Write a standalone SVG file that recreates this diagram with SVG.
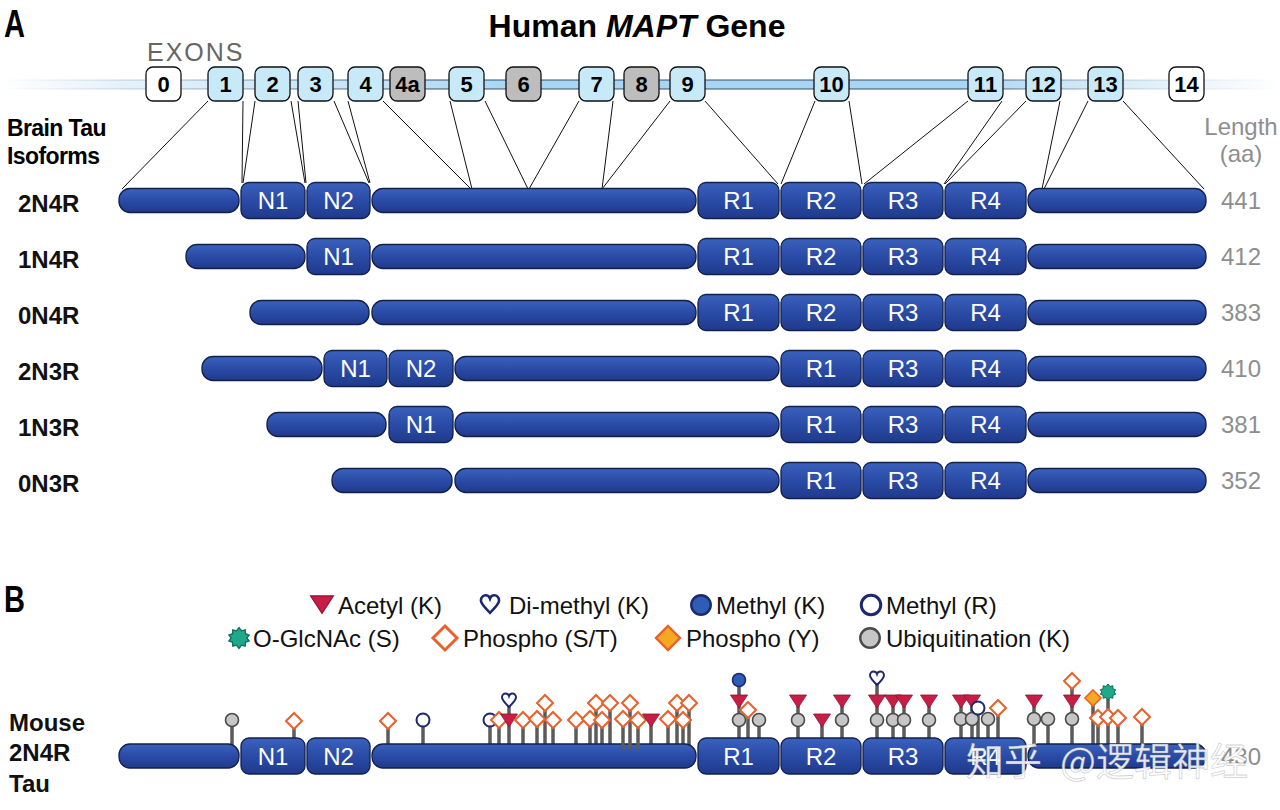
<svg xmlns="http://www.w3.org/2000/svg" xmlns:xlink="http://www.w3.org/1999/xlink" width="1280" height="810" viewBox="0 0 1280 810">
<defs>
<linearGradient id="gBlue" x1="0" y1="0" x2="0" y2="1">
<stop offset="0" stop-color="#3a62bd"/><stop offset="0.5" stop-color="#2a4ba6"/><stop offset="1" stop-color="#1f3a8c"/>
</linearGradient>
<linearGradient id="gBar" x1="0" y1="0" x2="1280" y2="0" gradientUnits="userSpaceOnUse">
<stop offset="0" stop-color="#ffffff"/><stop offset="0.1" stop-color="#e3f1fa"/><stop offset="0.3" stop-color="#c2e2f6"/><stop offset="0.4" stop-color="#a8d5f2"/><stop offset="0.75" stop-color="#a8d5f2"/><stop offset="0.85" stop-color="#d2e9f7"/><stop offset="1" stop-color="#ffffff"/>
</linearGradient>
<linearGradient id="gEdge" x1="0" y1="0" x2="1280" y2="0" gradientUnits="userSpaceOnUse">
<stop offset="0" stop-color="#1b3552" stop-opacity="0"/><stop offset="0.12" stop-color="#1b3552" stop-opacity="0.25"/><stop offset="0.33" stop-color="#1b3552" stop-opacity="0.85"/><stop offset="0.75" stop-color="#1b3552" stop-opacity="0.85"/><stop offset="0.88" stop-color="#1b3552" stop-opacity="0.2"/><stop offset="1" stop-color="#1b3552" stop-opacity="0"/>
</linearGradient>
<circle id="ub" r="6.5" fill="#c6c6c6" stroke="#4a4a4a" stroke-width="1.6"/>
<polygon id="ph" points="0,-8 8,0 0,8 -8,0" fill="#ffffff" stroke="#e8612c" stroke-width="2"/>
<polygon id="phy" points="0,-8 8,0 0,8 -8,0" fill="#f7a823" stroke="#e8612c" stroke-width="1.6"/>
<polygon id="ac" points="-8.5,-6 8.5,-6 0,7" fill="#c81e45" stroke="#8e1030" stroke-width="0.8"/>
<circle id="mr" r="6.5" fill="#ffffff" stroke="#1d2872" stroke-width="2"/>
<circle id="mk" r="6.5" fill="#2d5db5" stroke="#1d2872" stroke-width="1.6"/>
<path id="dm" d="M0,6 C-4,2 -7,-1 -7,-3.5 C-7,-6 -5,-7.5 -3.5,-7.5 C-1.8,-7.5 -0.5,-6.5 0,-5 C0.5,-6.5 1.8,-7.5 3.5,-7.5 C5,-7.5 7,-6 7,-3.5 C7,-1 4,2 0,6Z" fill="#ffffff" stroke="#1d2872" stroke-width="2"/>
<polygon id="gl" points="0,-8 2,-5.5 4.8,-6.3 4.9,-3.3 7.8,-2.2 6,0 7.8,2.2 4.9,3.3 4.8,6.3 2,5.5 0,8 -2,5.5 -4.8,6.3 -4.9,3.3 -7.8,2.2 -6,0 -7.8,-2.2 -4.9,-3.3 -4.8,-6.3 -2,-5.5" fill="#1fa88a" stroke="#0d6e5a" stroke-width="1"/>
</defs>
<style>
.seg{fill:url(#gBlue);stroke:#14204a;stroke-width:1.3}
.bl{font-family:"Liberation Sans",Arial,sans-serif;font-size:24px;fill:#ffffff;text-anchor:middle}
.iso{font-family:"Liberation Sans",Arial,sans-serif;font-size:24px;font-weight:bold;fill:#111}
.len{font-family:"Liberation Sans",Arial,sans-serif;font-size:24px;fill:#8e8e8e;text-anchor:middle}
.ex{stroke:#111;stroke-width:1.3}
.exb{fill:#c8e9f8}.exw{fill:#ffffff}.exg{fill:#bdbdbd}
.exn{font-family:"Liberation Sans",Arial,sans-serif;font-size:22px;font-weight:bold;fill:#000;text-anchor:middle}
.conn line{stroke:#111;stroke-width:1}
.stem line{stroke:#5b5b5b;stroke-width:3.5;stroke-linecap:round}
.lg{font-family:"Liberation Sans",Arial,sans-serif;font-size:24px;fill:#111}
</style>
<rect width="1280" height="810" fill="#ffffff"/>

<!-- Headings -->
<text x="4" y="37" font-family="Liberation Sans,Arial,sans-serif" font-size="38" font-weight="bold" textLength="21" lengthAdjust="spacingAndGlyphs">A</text>
<text x="637" y="37" font-family="Liberation Sans,Arial,sans-serif" font-size="32" font-weight="bold" text-anchor="middle">Human <tspan font-style="italic">MAPT</tspan> Gene</text>
<text x="147" y="61" font-family="Liberation Sans,Arial,sans-serif" font-size="25" fill="#666" letter-spacing="2">EXONS</text>
<text x="7" y="136" font-family="Liberation Sans,Arial,sans-serif" font-size="23" font-weight="bold" letter-spacing="-0.6">Brain Tau</text>
<text x="7" y="164" font-family="Liberation Sans,Arial,sans-serif" font-size="23" font-weight="bold" letter-spacing="-0.6">Isoforms</text>
<text x="1241" y="135" class="len">Length</text>
<text x="1241" y="162" class="len">(aa)</text>

<!-- Exon bar -->
<g id="exon-bar">
<rect x="0" y="80" width="1280" height="9" fill="url(#gBar)"/>
<line x1="0" y1="80" x2="1280" y2="80" stroke="url(#gEdge)" stroke-width="1.2"/>
<line x1="0" y1="89" x2="1280" y2="89" stroke="url(#gEdge)" stroke-width="1.2"/>
</g>

<!-- Connectors -->
<g id="connectors" class="conn">
<line x1="208" y1="101" x2="122" y2="189"/>
<line x1="243" y1="101" x2="242" y2="183"/>
<line x1="255" y1="101" x2="243" y2="183"/>
<line x1="291" y1="101" x2="305" y2="183"/>
<line x1="298" y1="101" x2="306" y2="183"/>
<line x1="334" y1="101" x2="369" y2="183"/>
<line x1="348" y1="101" x2="370" y2="183"/>
<line x1="383" y1="101" x2="471" y2="189"/>
<line x1="450" y1="101" x2="472" y2="189"/>
<line x1="485" y1="101" x2="528" y2="189"/>
<line x1="579" y1="101" x2="529" y2="189"/>
<line x1="613" y1="101" x2="602" y2="189"/>
<line x1="670" y1="101" x2="602" y2="189"/>
<line x1="705" y1="101" x2="778" y2="184"/>
<line x1="815" y1="101" x2="781" y2="184"/>
<line x1="849" y1="101" x2="862" y2="184"/>
<line x1="968" y1="101" x2="864" y2="184"/>
<line x1="1002" y1="101" x2="944" y2="184"/>
<line x1="1026" y1="101" x2="945" y2="184"/>
<line x1="1060" y1="101" x2="1042" y2="189"/>
<line x1="1088" y1="101" x2="1044" y2="189"/>
<line x1="1123" y1="101" x2="1204" y2="189"/>
</g>

<!-- Exons -->
<g id="exon-0"><rect class="ex exw" x="146" y="67" width="35" height="34" rx="7"/><text class="exn" x="163.5" y="92">0</text></g>
<g id="exon-1"><rect class="ex exb" x="208" y="67" width="35" height="34" rx="7"/><text class="exn" x="225.5" y="92">1</text></g>
<g id="exon-2"><rect class="ex exb" x="255" y="67" width="35" height="34" rx="7"/><text class="exn" x="272.5" y="92">2</text></g>
<g id="exon-3"><rect class="ex exb" x="298" y="67" width="35" height="34" rx="7"/><text class="exn" x="315.5" y="92">3</text></g>
<g id="exon-4"><rect class="ex exb" x="348" y="67" width="35" height="34" rx="7"/><text class="exn" x="365.5" y="92">4</text></g>
<g id="exon-4a"><rect class="ex exg" x="390" y="67" width="35" height="34" rx="7"/><text class="exn" x="407.5" y="92">4a</text></g>
<g id="exon-5"><rect class="ex exb" x="449" y="67" width="35" height="34" rx="7"/><text class="exn" x="466.5" y="92">5</text></g>
<g id="exon-6"><rect class="ex exg" x="506" y="67" width="35" height="34" rx="7"/><text class="exn" x="523.5" y="92">6</text></g>
<g id="exon-7"><rect class="ex exb" x="579" y="67" width="35" height="34" rx="7"/><text class="exn" x="596.5" y="92">7</text></g>
<g id="exon-8"><rect class="ex exg" x="624" y="67" width="35" height="34" rx="7"/><text class="exn" x="641.5" y="92">8</text></g>
<g id="exon-9"><rect class="ex exb" x="670" y="67" width="35" height="34" rx="7"/><text class="exn" x="687.5" y="92">9</text></g>
<g id="exon-10"><rect class="ex exb" x="814" y="67" width="35" height="34" rx="7"/><text class="exn" x="831.5" y="92">10</text></g>
<g id="exon-11"><rect class="ex exb" x="968" y="67" width="35" height="34" rx="7"/><text class="exn" x="985.5" y="92">11</text></g>
<g id="exon-12"><rect class="ex exb" x="1026" y="67" width="35" height="34" rx="7"/><text class="exn" x="1043.5" y="92">12</text></g>
<g id="exon-13"><rect class="ex exb" x="1088" y="67" width="35" height="34" rx="7"/><text class="exn" x="1105.5" y="92">13</text></g>
<g id="exon-14"><rect class="ex exw" x="1169" y="67" width="35" height="34" rx="7"/><text class="exn" x="1186.5" y="92">14</text></g>

<!-- 2N4R -->
<g id="iso-2N4R">
<text class="iso" x="18" y="212">2N4R</text>
<rect class="seg" x="119" y="188.5" width="120" height="24" rx="11"/>
<rect class="seg" x="241" y="182.5" width="64" height="36" rx="8"/><text class="bl" x="273" y="209">N1</text>
<rect class="seg" x="307" y="182.5" width="63" height="36" rx="8"/><text class="bl" x="338.5" y="209">N2</text>
<rect class="seg" x="372" y="188.5" width="324" height="24" rx="11"/>
<rect class="seg" x="698" y="182.5" width="81" height="36" rx="8"/><text class="bl" x="738.5" y="209">R1</text>
<rect class="seg" x="781" y="182.5" width="80" height="36" rx="8"/><text class="bl" x="821" y="209">R2</text>
<rect class="seg" x="863" y="182.5" width="80" height="36" rx="8"/><text class="bl" x="903" y="209">R3</text>
<rect class="seg" x="945" y="182.5" width="81" height="36" rx="8"/><text class="bl" x="985.5" y="209">R4</text>
<rect class="seg" x="1028" y="188.5" width="178" height="24" rx="11"/>
<text class="len" x="1241" y="209">441</text>
</g>
<!-- 1N4R -->
<g id="iso-1N4R">
<text class="iso" x="18" y="268">1N4R</text>
<rect class="seg" x="186" y="244.5" width="119" height="24" rx="11"/>
<rect class="seg" x="307" y="238.5" width="63" height="36" rx="8"/><text class="bl" x="338.5" y="265">N1</text>
<rect class="seg" x="372" y="244.5" width="324" height="24" rx="11"/>
<rect class="seg" x="698" y="238.5" width="81" height="36" rx="8"/><text class="bl" x="738.5" y="265">R1</text>
<rect class="seg" x="781" y="238.5" width="80" height="36" rx="8"/><text class="bl" x="821" y="265">R2</text>
<rect class="seg" x="863" y="238.5" width="80" height="36" rx="8"/><text class="bl" x="903" y="265">R3</text>
<rect class="seg" x="945" y="238.5" width="81" height="36" rx="8"/><text class="bl" x="985.5" y="265">R4</text>
<rect class="seg" x="1028" y="244.5" width="178" height="24" rx="11"/>
<text class="len" x="1241" y="265">412</text>
</g>
<!-- 0N4R -->
<g id="iso-0N4R">
<text class="iso" x="18" y="324">0N4R</text>
<rect class="seg" x="250" y="300.5" width="119" height="24" rx="11"/>
<rect class="seg" x="372" y="300.5" width="324" height="24" rx="11"/>
<rect class="seg" x="698" y="294.5" width="81" height="36" rx="8"/><text class="bl" x="738.5" y="321">R1</text>
<rect class="seg" x="781" y="294.5" width="80" height="36" rx="8"/><text class="bl" x="821" y="321">R2</text>
<rect class="seg" x="863" y="294.5" width="80" height="36" rx="8"/><text class="bl" x="903" y="321">R3</text>
<rect class="seg" x="945" y="294.5" width="81" height="36" rx="8"/><text class="bl" x="985.5" y="321">R4</text>
<rect class="seg" x="1028" y="300.5" width="178" height="24" rx="11"/>
<text class="len" x="1241" y="321">383</text>
</g>
<!-- 2N3R -->
<g id="iso-2N3R">
<text class="iso" x="18" y="380">2N3R</text>
<rect class="seg" x="202" y="356.5" width="120" height="24" rx="11"/>
<rect class="seg" x="324" y="350.5" width="63" height="36" rx="8"/><text class="bl" x="355.5" y="377">N1</text>
<rect class="seg" x="389" y="350.5" width="64" height="36" rx="8"/><text class="bl" x="421" y="377">N2</text>
<rect class="seg" x="455" y="356.5" width="324" height="24" rx="11"/>
<rect class="seg" x="781" y="350.5" width="80" height="36" rx="8"/><text class="bl" x="821" y="377">R1</text>
<rect class="seg" x="863" y="350.5" width="80" height="36" rx="8"/><text class="bl" x="903" y="377">R3</text>
<rect class="seg" x="945" y="350.5" width="81" height="36" rx="8"/><text class="bl" x="985.5" y="377">R4</text>
<rect class="seg" x="1028" y="356.5" width="178" height="24" rx="11"/>
<text class="len" x="1241" y="377">410</text>
</g>
<!-- 1N3R -->
<g id="iso-1N3R">
<text class="iso" x="18" y="436">1N3R</text>
<rect class="seg" x="267" y="412.5" width="119" height="24" rx="11"/>
<rect class="seg" x="389" y="406.5" width="64" height="36" rx="8"/><text class="bl" x="421" y="433">N1</text>
<rect class="seg" x="455" y="412.5" width="324" height="24" rx="11"/>
<rect class="seg" x="781" y="406.5" width="80" height="36" rx="8"/><text class="bl" x="821" y="433">R1</text>
<rect class="seg" x="863" y="406.5" width="80" height="36" rx="8"/><text class="bl" x="903" y="433">R3</text>
<rect class="seg" x="945" y="406.5" width="81" height="36" rx="8"/><text class="bl" x="985.5" y="433">R4</text>
<rect class="seg" x="1028" y="412.5" width="178" height="24" rx="11"/>
<text class="len" x="1241" y="433">381</text>
</g>
<!-- 0N3R -->
<g id="iso-0N3R">
<text class="iso" x="18" y="492">0N3R</text>
<rect class="seg" x="332" y="468.5" width="120" height="24" rx="11"/>
<rect class="seg" x="455" y="468.5" width="324" height="24" rx="11"/>
<rect class="seg" x="781" y="462.5" width="80" height="36" rx="8"/><text class="bl" x="821" y="489">R1</text>
<rect class="seg" x="863" y="462.5" width="80" height="36" rx="8"/><text class="bl" x="903" y="489">R3</text>
<rect class="seg" x="945" y="462.5" width="81" height="36" rx="8"/><text class="bl" x="985.5" y="489">R4</text>
<rect class="seg" x="1028" y="468.5" width="178" height="24" rx="11"/>
<text class="len" x="1241" y="489">352</text>
</g>

<!-- Panel B -->
<text x="4" y="612" font-family="Liberation Sans,Arial,sans-serif" font-size="36" font-weight="bold" textLength="21" lengthAdjust="spacingAndGlyphs">B</text>
<g id="legend">
<use xlink:href="#ac" transform="translate(322,604) scale(1.35)"/><text class="lg" x="338" y="614">Acetyl (K)</text>
<use xlink:href="#dm" transform="translate(490,605) scale(1.3)"/><text class="lg" x="509" y="614">Di-methyl (K)</text>
<use xlink:href="#mk" transform="translate(701,605) scale(1.5)"/><text class="lg" x="716" y="614">Methyl (K)</text>
<use xlink:href="#mr" transform="translate(871,605) scale(1.5)"/><text class="lg" x="886" y="614">Methyl (R)</text>
<use xlink:href="#gl" transform="translate(239,638) scale(1.3)"/><text class="lg" x="253" y="647">O-GlcNAc (S)</text>
<use xlink:href="#ph" transform="translate(445,638) scale(1.5)"/><text class="lg" x="463" y="647">Phospho (S/T)</text>
<use xlink:href="#phy" transform="translate(668,638) scale(1.5)"/><text class="lg" x="686" y="647">Phospho (Y)</text>
<use xlink:href="#ub" transform="translate(870,638) scale(1.5)"/><text class="lg" x="886" y="647">Ubiquitination (K)</text>
</g>

<g id="mouse-2N4R">
<text class="iso" x="9" y="731">Mouse</text>
<text class="iso" x="9" y="761">2N4R</text>
<text class="iso" x="9" y="792">Tau</text>
<g class="stem">
<line x1="232" y1="720" x2="232" y2="746"/>
<line x1="294" y1="721" x2="294" y2="740"/>
<line x1="388" y1="721" x2="388" y2="746"/>
<line x1="423" y1="720" x2="423" y2="746"/>
<line x1="490" y1="720" x2="490" y2="746"/>
<line x1="499" y1="720" x2="499" y2="746"/>
<line x1="509" y1="701" x2="509" y2="746"/>
<line x1="523" y1="720" x2="523" y2="746"/>
<line x1="537" y1="719" x2="537" y2="746"/>
<line x1="545" y1="703" x2="545" y2="746"/>
<line x1="553" y1="720" x2="553" y2="746"/>
<line x1="576" y1="720" x2="576" y2="746"/>
<line x1="590" y1="719" x2="590" y2="746"/>
<line x1="596" y1="703" x2="596" y2="746"/>
<line x1="602" y1="720" x2="602" y2="746"/>
<line x1="610" y1="703" x2="610" y2="746"/>
<line x1="651" y1="720" x2="651" y2="746"/>
<line x1="668" y1="719" x2="668" y2="746"/>
<line x1="677" y1="703" x2="677" y2="746"/>
<line x1="683" y1="720" x2="683" y2="746"/>
<line x1="689" y1="703" x2="689" y2="746"/>
<line x1="739" y1="680" x2="739" y2="740"/>
<line x1="748" y1="710" x2="748" y2="740"/>
<line x1="759" y1="720" x2="759" y2="740"/>
<line x1="798" y1="701" x2="798" y2="740"/>
<line x1="822" y1="720" x2="822" y2="740"/>
<line x1="842" y1="701" x2="842" y2="740"/>
<line x1="877" y1="679" x2="877" y2="740"/>
<line x1="893" y1="701" x2="893" y2="740"/>
<line x1="904" y1="701" x2="904" y2="740"/>
<line x1="929" y1="701" x2="929" y2="740"/>
<line x1="961" y1="701" x2="961" y2="740"/>
<line x1="972" y1="701" x2="972" y2="740"/>
<line x1="978" y1="708" x2="978" y2="740"/>
<line x1="988" y1="719" x2="988" y2="740"/>
<line x1="998" y1="708" x2="998" y2="740"/>
<line x1="1034" y1="701" x2="1034" y2="746"/>
<line x1="1048" y1="719" x2="1048" y2="746"/>
<line x1="1072" y1="681" x2="1072" y2="746"/>
<line x1="1093" y1="698" x2="1093" y2="746"/>
<line x1="1098" y1="718" x2="1098" y2="746"/>
<line x1="1108" y1="692" x2="1108" y2="746"/>
<line x1="1118" y1="718" x2="1118" y2="746"/>
<line x1="1142" y1="717" x2="1142" y2="746"/>
</g>
<rect class="seg" x="119" y="744" width="120" height="24" rx="11"/>
<rect class="seg" x="241" y="738" width="64" height="36" rx="8"/><text class="bl" x="273" y="764.5">N1</text>
<rect class="seg" x="307" y="738" width="63" height="36" rx="8"/><text class="bl" x="338.5" y="764.5">N2</text>
<rect class="seg" x="372" y="744" width="324" height="24" rx="11"/>
<rect class="seg" x="698" y="738" width="81" height="36" rx="8"/><text class="bl" x="738.5" y="764.5">R1</text>
<rect class="seg" x="781" y="738" width="80" height="36" rx="8"/><text class="bl" x="821" y="764.5">R2</text>
<rect class="seg" x="863" y="738" width="80" height="36" rx="8"/><text class="bl" x="903" y="764.5">R3</text>
<rect class="seg" x="945" y="738" width="81" height="36" rx="8"/><text class="bl" x="985.5" y="764.5">R4</text>
<rect class="seg" x="1028" y="744" width="178" height="24" rx="11"/>
<text class="len" x="1241" y="764.5">430</text>
<g class="stem">
<line x1="623" y1="719" x2="623" y2="748"/>
<line x1="630" y1="703" x2="630" y2="748"/>
<line x1="638" y1="720" x2="638" y2="748"/>
</g>
<g id="ptm-symbols">
<use xlink:href="#ph" x="545" y="703"/>
<use xlink:href="#ph" x="596" y="703"/>
<use xlink:href="#ph" x="610" y="703"/>
<use xlink:href="#ph" x="630" y="703"/>
<use xlink:href="#ph" x="677" y="703"/>
<use xlink:href="#ph" x="689" y="703"/>
<use xlink:href="#dm" x="509" y="701"/>
<use xlink:href="#dm" x="877" y="679"/>
<use xlink:href="#mk" x="739" y="680"/>
<use xlink:href="#ph" x="1072" y="681"/>
<use xlink:href="#gl" x="1108" y="692"/>
<use xlink:href="#phy" x="1093" y="698"/>
<use xlink:href="#ub" x="232" y="720"/>
<use xlink:href="#ph" x="294" y="721"/>
<use xlink:href="#ph" x="388" y="721"/>
<use xlink:href="#mr" x="423" y="720"/>
<use xlink:href="#mr" x="490" y="720"/>
<use xlink:href="#ph" x="499" y="720"/>
<use xlink:href="#ac" x="509" y="720"/>
<use xlink:href="#ph" x="523" y="720"/>
<use xlink:href="#ph" x="537" y="719"/>
<use xlink:href="#ph" x="553" y="720"/>
<use xlink:href="#ph" x="576" y="720"/>
<use xlink:href="#ph" x="590" y="719"/>
<use xlink:href="#ph" x="602" y="720"/>
<use xlink:href="#ph" x="623" y="719"/>
<use xlink:href="#ph" x="638" y="720"/>
<use xlink:href="#ac" x="651" y="720"/>
<use xlink:href="#ph" x="668" y="719"/>
<use xlink:href="#ph" x="683" y="720"/>
<use xlink:href="#ac" x="739" y="701"/>
<use xlink:href="#ub" x="739" y="720"/>
<use xlink:href="#ub" x="759" y="720"/>
<use xlink:href="#ph" x="748" y="710"/>
<use xlink:href="#ac" x="798" y="701"/>
<use xlink:href="#ub" x="798" y="720"/>
<use xlink:href="#ac" x="822" y="720"/>
<use xlink:href="#ac" x="842" y="701"/>
<use xlink:href="#ub" x="842" y="720"/>
<use xlink:href="#ac" x="877" y="701"/>
<use xlink:href="#ub" x="877" y="720"/>
<use xlink:href="#ac" x="893" y="701"/>
<use xlink:href="#ub" x="893" y="720"/>
<use xlink:href="#ac" x="904" y="701"/>
<use xlink:href="#ub" x="904" y="720"/>
<use xlink:href="#ac" x="929" y="701"/>
<use xlink:href="#ub" x="929" y="720"/>
<use xlink:href="#ac" x="961" y="701"/>
<use xlink:href="#ac" x="972" y="701"/>
<use xlink:href="#ub" x="961" y="719"/>
<use xlink:href="#ub" x="972" y="719"/>
<use xlink:href="#mr" x="978" y="708"/>
<use xlink:href="#ub" x="988" y="719"/>
<use xlink:href="#ph" x="998" y="708"/>
<use xlink:href="#ac" x="1034" y="701"/>
<use xlink:href="#ub" x="1034" y="719"/>
<use xlink:href="#ub" x="1048" y="719"/>
<use xlink:href="#ac" x="1072" y="701"/>
<use xlink:href="#ub" x="1072" y="719"/>
<use xlink:href="#ph" x="1098" y="718"/>
<use xlink:href="#ph" x="1108" y="717"/>
<use xlink:href="#ph" x="1118" y="718"/>
<use xlink:href="#ph" x="1142" y="717"/>
</g>
</g>

<!-- Watermark -->
<g id="watermark" font-family="Noto Sans CJK SC,sans-serif" font-size="38" fill="#ffffff" fill-opacity="0.88" stroke="#777" stroke-opacity="0.35" stroke-width="0.8">
<text x="966" y="775">知乎</text>
<text x="1060" y="775">@逻辑神经</text>
</g>
</svg>
